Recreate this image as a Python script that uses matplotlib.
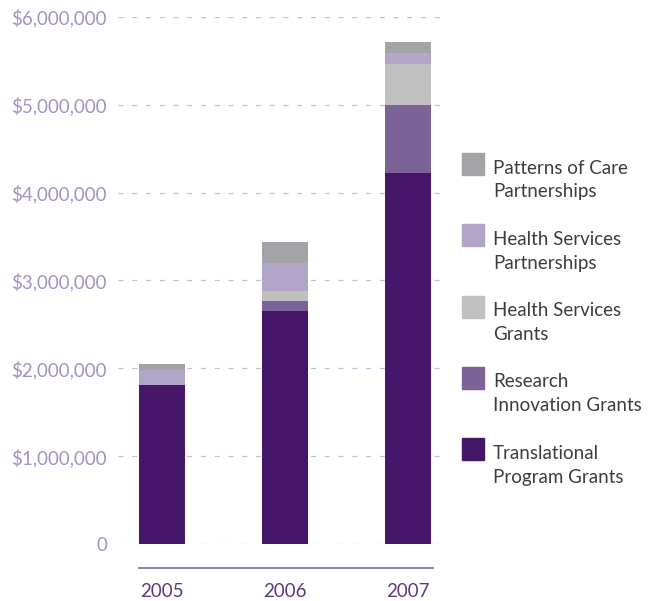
import numpy as np
import matplotlib
matplotlib.use("Agg")
import matplotlib.pyplot as plt
from matplotlib.patches import Rectangle

plt.rcParams['font.family'] = ['Lato', 'DejaVu Sans']

# data (in dollars)
years = ['2005', '2006', '2007']
translational = [1810000, 2650000, 4220000]
research = [0, 120000, 780000]
hs_grants = [0, 110000, 470000]
hs_partnerships = [170000, 320000, 120000]
patterns = [70000, 240000, 130000]

series = [
    ('Translational\nProgram Grants', translational, '#461768'),
    ('Research\nInnovation Grants', research, '#7b6397'),
    ('Health Services\nGrants', hs_grants, '#c0c0c0'),
    ('Health Services\nPartnerships', hs_partnerships, '#b1a6c8'),
    ('Patterns of Care\nPartnerships', patterns, '#a3a2a7'),
]
yticks = [0, 1000000, 2000000, 3000000, 4000000, 5000000, 6000000]
ytick_labels = ['0', '$1,000,000', '$2,000,000', '$3,000,000',
                '$4,000,000', '$5,000,000', '$6,000,000']

W, H = 656, 601
fig = plt.figure(figsize=(W / 100, H / 100), dpi=100)
ax = fig.add_axes([118 / W, (H - 544) / H, (441 - 118) / W, (544 - 17) / H])

x = np.arange(len(years))
width = 0.374
bottom = np.zeros(len(years))
for name, vals, col in series:
    ax.bar(x, vals, width, bottom=bottom, color=col, zorder=3)
    bottom += np.array(vals)

ax.set_ylim(0, 6000000)
ax.set_xlim(-0.358, 2.268)
ax.set_yticks(yticks)
ax.set_yticklabels(ytick_labels)
ax.set_xticks(x)
ax.set_xticklabels(years)

for t in yticks:
    ax.axhline(t, color='#c6bddb', lw=0.9, ls=(0, (4, 7)), zorder=1)

for s in ax.spines.values():
    s.set_visible(False)
ax.tick_params(axis='y', length=0, pad=8, labelsize=13.5, labelcolor='#a592c4')
ax.tick_params(axis='x', length=0, pad=28, labelsize=13.5, labelcolor='#5b3b7d')

# baseline under the years
trans = matplotlib.transforms.blended_transform_factory(ax.transData, ax.transAxes)
ax.plot([x[0] - width / 2, x[-1] + width / 2 + 0.02], [-0.0455, -0.0455],
        color='#8a74a8', lw=1.3, transform=trans, clip_on=False)

# legend, top entry first
for i, (name, vals, col) in enumerate(series[::-1]):
    top = 153 + i * 71.3
    fig.add_artist(Rectangle((462 / W, (H - top - 22) / H), 22 / W, 22 / H,
                             transform=fig.transFigure, color=col))
    fig.text(493 / W, (H - top - 27) / H, name, fontsize=13.5, color='#3d3d3d',
             va='center', ha='left', linespacing=1.5)

fig.savefig('out.png', dpi=100)
